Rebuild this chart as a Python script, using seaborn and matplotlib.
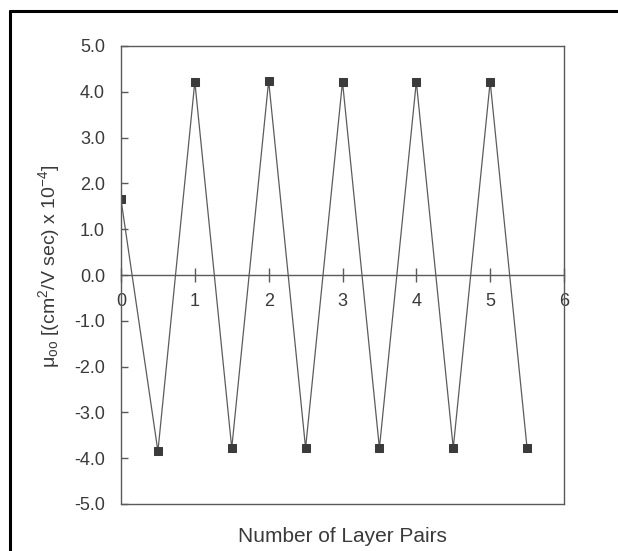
import matplotlib
matplotlib.use("Agg")
import matplotlib.pyplot as plt
from matplotlib.lines import Line2D
import seaborn as sns
import pandas as pd

# ---- data ----
layer_pairs = [0.0, 0.5, 1.0, 1.5, 2.0, 2.5, 3.0, 3.5, 4.0, 4.5, 5.0, 5.5]
mobility = [1.65, -3.85, 4.22, -3.78, 4.24, -3.78, 4.22, -3.78, 4.22, -3.78, 4.22, -3.78]
x_ticks = [0, 1, 2, 3, 4, 5, 6]
y_ticks = [5.0, 4.0, 3.0, 2.0, 1.0, 0.0, -1.0, -2.0, -3.0, -4.0, -5.0]
x_label = "Number of Layer Pairs"
y_label = r"μ$_{\mathrm{oo}}$ [(cm$^{\mathrm{2}}$/V sec) x 10$^{\mathrm{-4}}$]"

df = pd.DataFrame({"pairs": layer_pairs, "mu": mobility})

sns.set_theme(style="white")
plt.rcParams["font.family"] = ["Liberation Sans", "DejaVu Sans"]
plt.rcParams["mathtext.fontset"] = "custom"
plt.rcParams["mathtext.rm"] = "Liberation Sans"
plt.rcParams["mathtext.it"] = "Liberation Sans:italic"
plt.rcParams["mathtext.bf"] = "Liberation Sans:bold"

text_color = "#3a3a3a"
axis_color = "#5a5a5a"

fig = plt.figure(figsize=(6.18, 5.51), dpi=100)
ax = fig.add_axes([121 / 618, 1 - 504 / 551, (564 - 121) / 618, (504 - 46) / 551])

sns.lineplot(data=df, x="pairs", y="mu", ax=ax, color="#5c5c5c", linewidth=0.9,
             marker="s", markersize=5.2, markerfacecolor="#3b3b3b",
             markeredgecolor="#3b3b3b", sort=False)

ax.set_xlim(0, 6)
ax.set_ylim(-5, 5)
ax.set_xticks(x_ticks)
ax.set_xticklabels([str(t) for t in x_ticks])
ax.set_yticks(y_ticks)
ax.set_yticklabels([f"{t:.1f}" for t in y_ticks])

# x-axis drawn through zero, frame kept all around
for s in ax.spines.values():
    s.set_visible(True)
    s.set_color(axis_color)
    s.set_linewidth(1.0)
ax.spines["bottom"].set_position(("data", 0))
ax.axhline(-5, color=axis_color, linewidth=1.0, clip_on=False, zorder=3)

ax.tick_params(axis="y", direction="in", length=5, width=1, color=axis_color,
               labelsize=13, labelcolor=text_color, pad=11.5, left=True)
ax.tick_params(axis="x", direction="inout", length=10, width=1, color=axis_color,
               labelsize=13, labelcolor=text_color, pad=8, bottom=True)

ax.set_xlabel(x_label, fontsize=15, color=text_color)
ax.set_ylabel(y_label, fontsize=14, color=text_color)
ax.xaxis.set_label_coords(0.5, -0.05)
ax.yaxis.set_label_coords(-0.133, 0.52)
ax.grid(False)

# outer frame lines (left and top visible in the reference)
fig.add_artist(Line2D([10 / 618, 10 / 618], [0, 1 - 11 / 551], color="black",
                      linewidth=2.2, transform=fig.transFigure))
fig.add_artist(Line2D([10 / 618, 1], [1 - 11 / 551, 1 - 11 / 551], color="black",
                      linewidth=2.2, transform=fig.transFigure))

fig.savefig("out.png", dpi=100)
